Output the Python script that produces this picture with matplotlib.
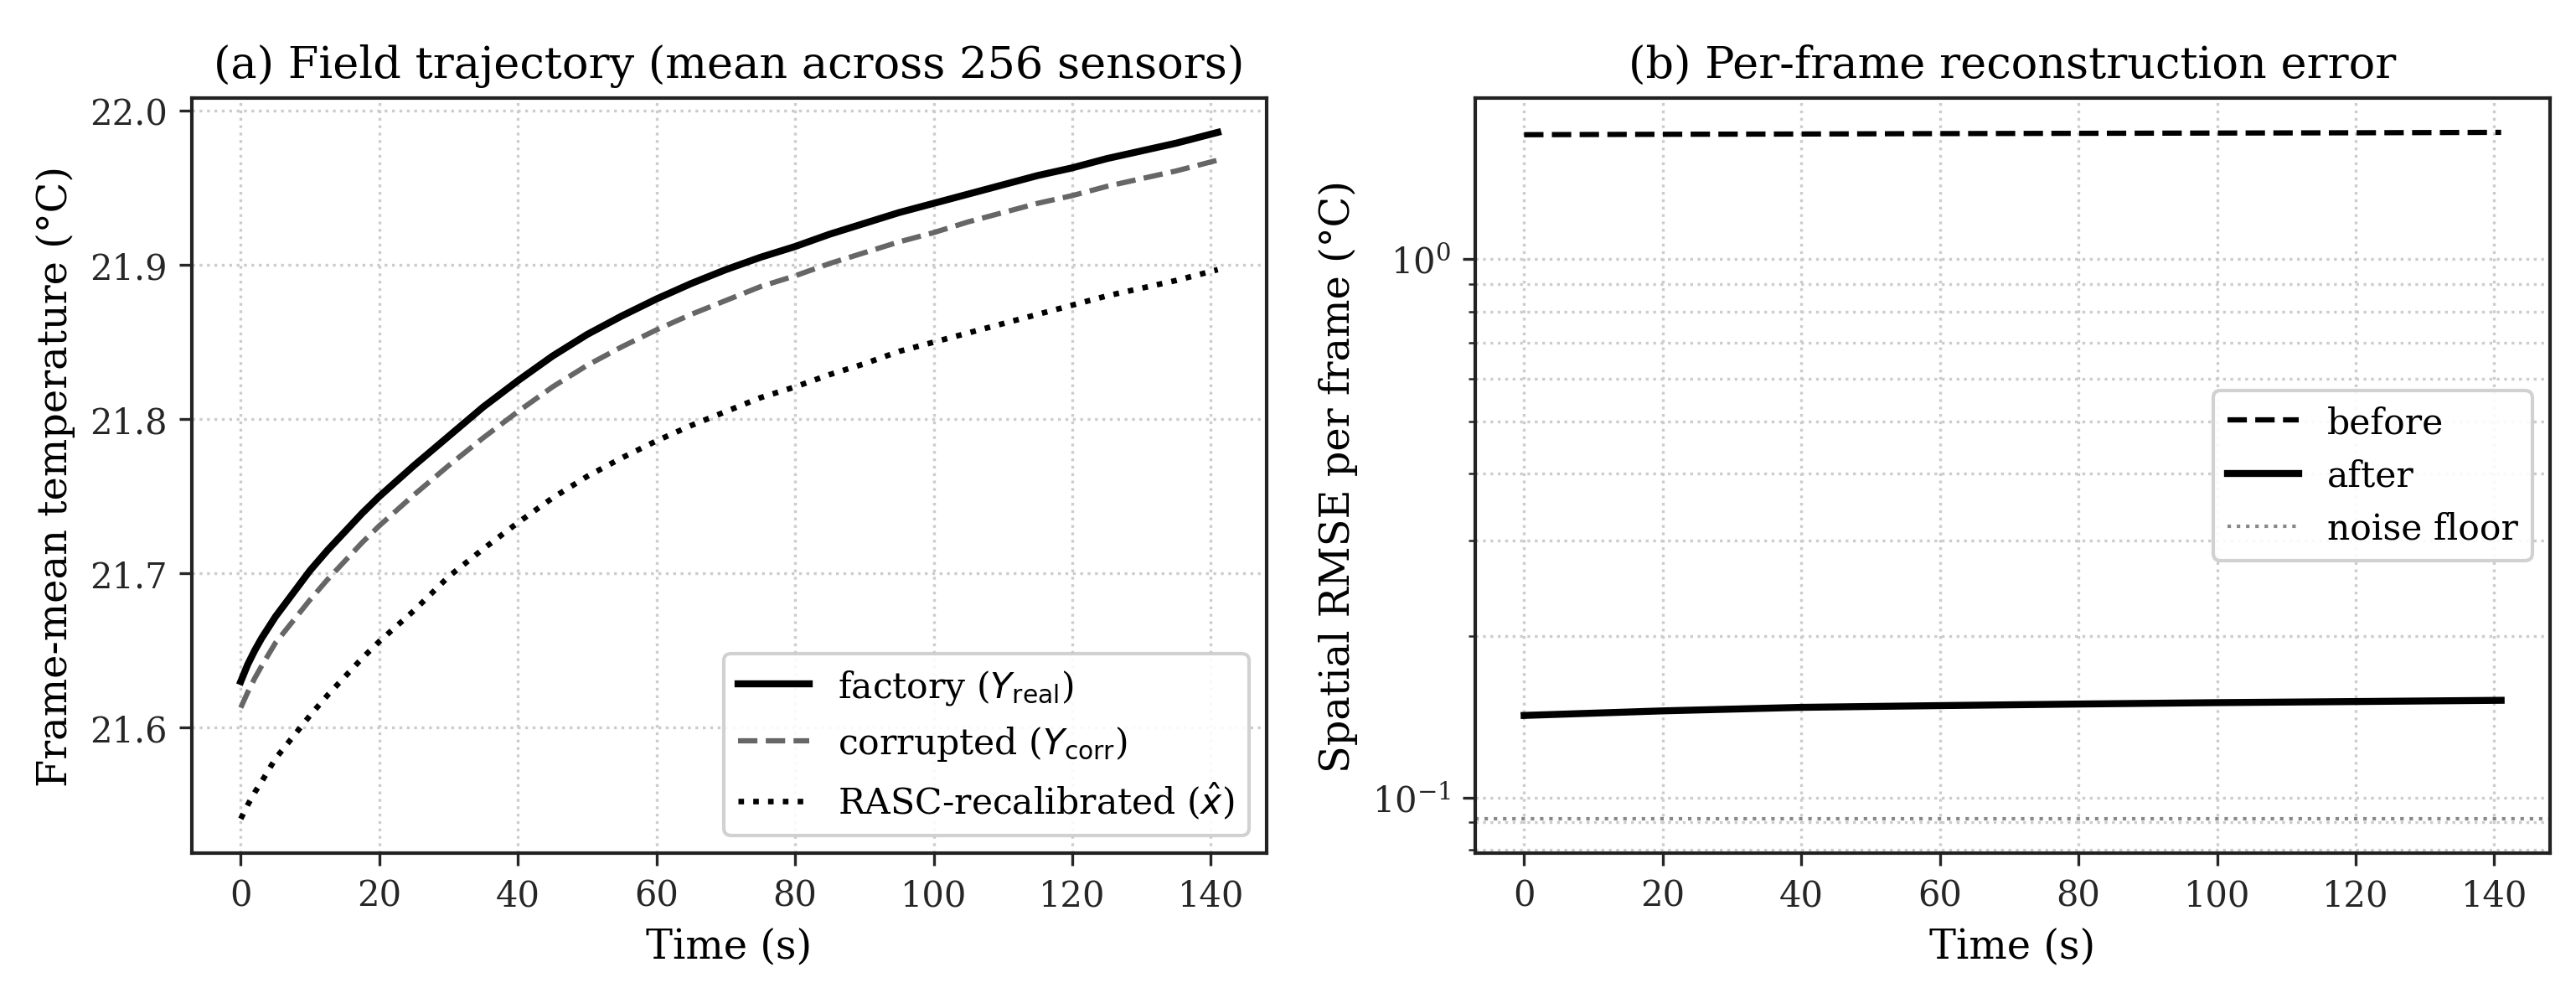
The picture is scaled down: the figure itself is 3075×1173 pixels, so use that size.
import matplotlib
matplotlib.use("Agg")
import matplotlib.pyplot as plt

plt.rcParams['font.family'] = ['DejaVu Serif']
plt.rcParams['mathtext.fontset'] = 'dejavusans'

# ---- data ----
time_s = [0, 1, 2, 3, 5, 7.5, 10, 12.5, 15, 17.5, 20, 25, 30, 35, 40, 45, 50,
          55, 60, 65, 70, 75, 80, 85, 90, 95, 100, 105, 110, 115, 120, 125,
          130, 135, 141]
factory = [21.630, 21.641, 21.650, 21.658, 21.672, 21.687, 21.702, 21.715,
           21.727, 21.739, 21.750, 21.770, 21.789, 21.808, 21.825, 21.841,
           21.855, 21.867, 21.878, 21.888, 21.897, 21.905, 21.912, 21.920,
           21.927, 21.934, 21.940, 21.946, 21.952, 21.958, 21.963, 21.969,
           21.974, 21.979, 21.986]
corrupted = [21.613, 21.623, 21.632, 21.640, 21.655, 21.669, 21.683, 21.696,
             21.708, 21.720, 21.731, 21.751, 21.770, 21.788, 21.805, 21.821,
             21.835, 21.847, 21.858, 21.868, 21.877, 21.886, 21.893, 21.901,
             21.908, 21.915, 21.921, 21.928, 21.934, 21.940, 21.945, 21.951,
             21.956, 21.961, 21.968]
rasc = [21.541, 21.550, 21.558, 21.565, 21.580, 21.594, 21.608, 21.621,
        21.633, 21.645, 21.656, 21.676, 21.698, 21.716, 21.733, 21.749,
        21.763, 21.775, 21.786, 21.796, 21.805, 21.814, 21.821, 21.829,
        21.836, 21.844, 21.850, 21.856, 21.862, 21.868, 21.874, 21.880,
        21.885, 21.890, 21.897]

time_b = [0, 20, 40, 60, 80, 100, 120, 141]
rmse_before = [1.703, 1.706, 1.708, 1.711, 1.713, 1.715, 1.717, 1.720]
rmse_after = [0.1422, 0.1450, 0.1472, 0.1483, 0.1493, 0.1502, 0.1509, 0.1517]
noise_floor = 0.0914

xticks = [0, 20, 40, 60, 80, 100, 120, 140]

fig = plt.figure(figsize=(10.25, 3.9133), dpi=300)
ax1 = fig.add_axes([0.0745, 0.132, 0.4172, 0.7675])
ax2 = fig.add_axes([0.5727, 0.132, 0.4172, 0.7675])

tick_col = '#262626'
for ax in (ax1, ax2):
    for s in ax.spines.values():
        s.set_color('#222222')
        s.set_linewidth(1.0)
    ax.tick_params(labelsize=10, colors=tick_col, direction='out', length=3.5)
    ax.tick_params(which='minor', colors=tick_col, length=2)

# Panel (a)
ax1.plot(time_s, factory, color='black', lw=2.0, ls='-',
         label=r'factory ($Y_{\rm real}$)')
ax1.plot(time_s, corrupted, color='#666666', lw=1.5, ls='--',
         label=r'corrupted ($Y_{\rm corr}$)')
ax1.plot(time_s, rasc, color='black', lw=1.6, ls=':',
         label=r'RASC-recalibrated ($\hat{x}$)')
ax1.set_xticks(xticks)
ax1.grid(True, ls=':', color='#cccccc', lw=0.8)
ax1.set_axisbelow(True)
ax1.set_xlabel('Time (s)', fontsize=11.5)
ax1.set_ylabel('Frame-mean temperature (°C)', fontsize=11.5)
ax1.set_title('(a) Field trajectory (mean across 256 sensors)', fontsize=12.6)
ax1.legend(loc='lower right', fontsize=10.2, framealpha=0.9, edgecolor='#cccccc')

# Panel (b)
ax2.plot(time_b, rmse_before, color='black', lw=1.5, ls='--', label='before')
ax2.plot(time_b, rmse_after, color='black', lw=2.0, ls='-', label='after')
ax2.axhline(noise_floor, color='#888888', lw=1.0, ls=':', label='noise floor')
ax2.set_yscale('log')
ax2.set_xticks(xticks)
ax2.grid(True, which='both', ls=':', color='#cccccc', lw=0.8)
ax2.set_axisbelow(True)
ax2.set_xlabel('Time (s)', fontsize=11.5)
ax2.set_ylabel('Spatial RMSE per frame (°C)', fontsize=11.5)
ax2.set_title('(b) Per-frame reconstruction error', fontsize=12.6)
ax2.legend(loc='center right', fontsize=10.2, framealpha=0.9, edgecolor='#cccccc')

fig.savefig('out.png', dpi=300)
